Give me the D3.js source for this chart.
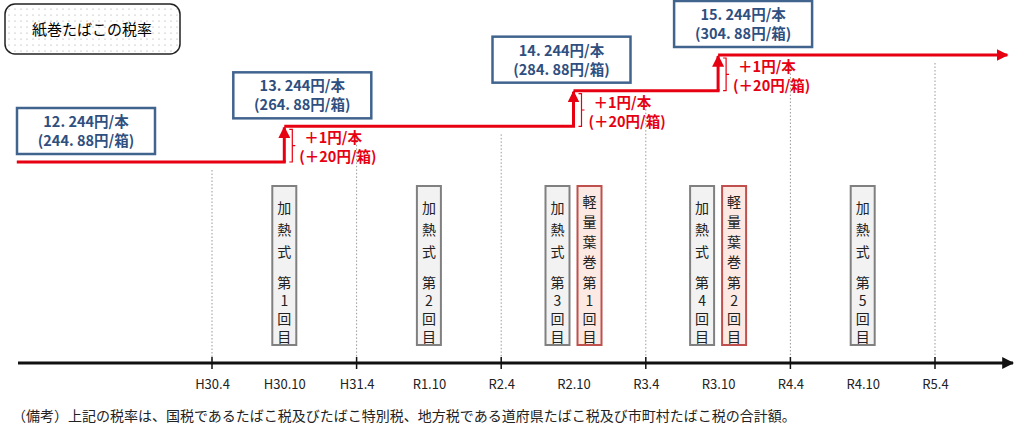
<!DOCTYPE html>
<html><head><meta charset="utf-8">
<script src="https://cdn.jsdelivr.net/npm/d3@7"></script>
<style>body{margin:0;background:#fff}text{font-family:"Noto Sans CJK JP",sans-serif}</style>
</head><body><div id="chart"></div>
<script>
const tickLabels = ['H30.4', 'H30.10', 'H31.4', 'R1.10', 'R2.4', 'R2.10', 'R3.4', 'R3.10', 'R4.4', 'R4.10', 'R5.4']
const stepAt = [1, 5, 7]              // period index where rate rises
const rates = [12.244, 13.244, 14.244, 15.244]
const rateLabels = [['12. 244円/本', '(244. 88円/箱)'], ['13. 244円/本', '(264. 88円/箱)'], ['14. 244円/本', '(284. 88円/箱)'], ['15. 244円/本', '(304. 88円/箱)']]
const events = [
  {at: 1, kind: 'heat', text: '加熱式　第1回目'},
  {at: 3, kind: 'heat', text: '加熱式　第2回目'},
  {at: 5, kind: 'heat', text: '加熱式　第3回目'},
  {at: 5, kind: 'leaf', text: '軽量葉巻　第1回目'},
  {at: 7, kind: 'heat', text: '加熱式　第4回目'},
  {at: 7, kind: 'leaf', text: '軽量葉巻　第2回目'},
  {at: 9, kind: 'heat', text: '加熱式　第5回目'}
]

const W = 1024, H = 432, axisY = 363
const svg = d3.select('#chart').append('svg').attr('width', W).attr('height', H)
const defs = svg.append('defs')
const pat = defs.append('pattern').attr('id', 'dots').attr('width', 6).attr('height', 6).attr('patternUnits', 'userSpaceOnUse')
pat.append('circle').attr('cx', 3).attr('cy', 3).attr('r', 0.6).attr('fill', '#999')
defs.append('marker').attr('id', 'ar').attr('viewBox', '0 0 10 10').attr('refX', 9).attr('refY', 5)
  .attr('markerWidth', 4).attr('markerHeight', 4).attr('orient', 'auto')
  .append('path').attr('d', 'M0,0L10,5L0,10z').attr('fill', '#e60012')
defs.append('marker').attr('id', 'ak').attr('viewBox', '0 0 10 10').attr('refX', 9).attr('refY', 5)
  .attr('markerWidth', 4).attr('markerHeight', 4).attr('orient', 'auto')
  .append('path').attr('d', 'M0,0L10,5L0,10z').attr('fill', '#111')

const x = d3.scaleLinear().domain([0, 10]).range([212, 935])
const y = d3.scaleLinear().domain([rates[0], rates[3]]).range([162, 55])

// title
svg.append('rect').attr('x', 5).attr('y', 4).attr('width', 175).attr('height', 50).attr('rx', 10)
  .attr('fill', 'url(#dots)').attr('stroke', '#222').attr('stroke-width', 1.5)
svg.append('text').attr('x', 92).attr('y', 35).attr('text-anchor', 'middle').attr('font-size', 15).text('紙巻たばこの税率')

// dotted guide lines at April ticks
tickLabels.forEach((t, i) => {
  if (i % 2) return
  const k = d3.bisectRight(stepAt, i)
  svg.append('line').attr('x1', x(i)).attr('x2', x(i)).attr('y1', y(rates[k]) + 8).attr('y2', axisY)
    .attr('stroke', '#999').attr('stroke-dasharray', '1.5,2')
})

// axis
svg.append('line').attr('x1', 18).attr('x2', 1013).attr('y1', axisY).attr('y2', axisY)
  .attr('stroke', '#111').attr('stroke-width', 3).attr('marker-end', 'url(#ak)')
const ax = d3.axisBottom(x).tickValues(d3.range(0, 11)).tickFormat(i => tickLabels[i]).tickSize(0).tickPadding(17)
const g = svg.append('g').attr('transform', `translate(0,${axisY})`).call(ax)
g.select('.domain').remove()
g.selectAll('text').attr('font-size', 13).attr('fill', '#222').attr('font-family', 'Liberation Sans, Arial, sans-serif')
tickLabels.forEach((t, i) => {
  if (i % 2) return
  svg.append('line').attr('x1', x(i)).attr('x2', x(i)).attr('y1', axisY - 6).attr('y2', axisY + 6).attr('stroke', '#111').attr('stroke-width', 1.5)
})

// red step line
const xs = [-2.7, ...stepAt, 11]
const red = svg.append('g')
rates.forEach((r, k) => {
  red.append('line').attr('x1', x(xs[k])).attr('x2', x(xs[k + 1]) + (k === 3 ? 0 : 1.5)).attr('y1', y(r)).attr('y2', y(r))
    .attr('stroke', '#e60012').attr('stroke-width', 3).attr('marker-end', k === 3 ? 'url(#ar)' : null)
  if (k > 0) {
    const sx = x(stepAt[k - 1])
    red.append('line').attr('x1', sx).attr('x2', sx).attr('y1', y(rates[k - 1])).attr('y2', y(r) + 1)
      .attr('stroke', '#e60012').attr('stroke-width', 3).attr('marker-end', 'url(#ar)')
    const b0 = y(r) + 3, b1 = y(rates[k - 1])
    red.append('path').attr('d', `M${sx + 5},${b0}h3V${b1}h-3M${sx + 8},${(b0 + b1) / 2}h3`)
      .attr('fill', 'none').attr('stroke', '#e60012').attr('stroke-width', 1.2)
    red.append('text').attr('x', sx + 20).attr('y', y(r) + 17).attr('fill', '#e60012').attr('font-size', 14.5).attr('font-weight', 'bold').text('＋1円/本')
    red.append('text').attr('x', sx + 15).attr('y', y(r) + 36).attr('fill', '#e60012').attr('font-size', 14.5).attr('font-weight', 'bold').text('(＋20円/箱)')
  }
})

// value boxes
const boxX = [86, x(stepAt[0]) + 18, x(stepAt[1]) - 12, x(stepAt[2]) + 25]
rates.forEach((r, k) => {
  const cx = boxX[k], top = y(r) - 54
  svg.append('rect').attr('x', cx - 69).attr('y', top).attr('width', 138).attr('height', 46)
    .attr('fill', '#fff').attr('stroke', '#41648f').attr('stroke-width', 2.5)
  rateLabels[k].forEach((s, j) => svg.append('text').attr('x', cx).attr('y', top + 19 + j * 19).attr('text-anchor', 'middle')
    .attr('fill', '#2f4f7f').attr('font-size', 14.5).attr('font-weight', 'bold').text(s))
})

// event boxes
events.forEach(e => {
  const both = events.filter(f => f.at === e.at).length > 1
  const cx = x(e.at) + (both ? (e.kind === 'heat' ? -16 : 16) : 0)
  const leaf = e.kind === 'leaf'
  svg.append('rect').attr('x', cx - 12).attr('y', 186).attr('width', 24).attr('height', 159)
    .attr('fill', leaf ? '#fde9e3' : '#f2f2f2').attr('stroke', leaf ? '#c0504d' : '#808080').attr('stroke-width', 2)
  const t = svg.append('text').attr('text-anchor', 'middle').attr('font-size', 14).attr('fill', '#222')
  const chars = Array.from(e.text).filter(c => c !== '　')
  const head = leaf ? 4 : 3
  chars.forEach((c, i) => {
    const yy = i < head ? (leaf ? 207 + i * 20 : 213 + i * 22) : 288 + (i - head) * 18
    t.append('tspan').attr('x', cx).attr('y', yy).text(c)
  })
})

svg.append('text').attr('x', 12).attr('y', 421).attr('font-size', 14).attr('fill', '#222')
  .text('（備考）上記の税率は、国税であるたばこ税及びたばこ特別税、地方税である道府県たばこ税及び市町村たばこ税の合計額。')
</script></body></html>
